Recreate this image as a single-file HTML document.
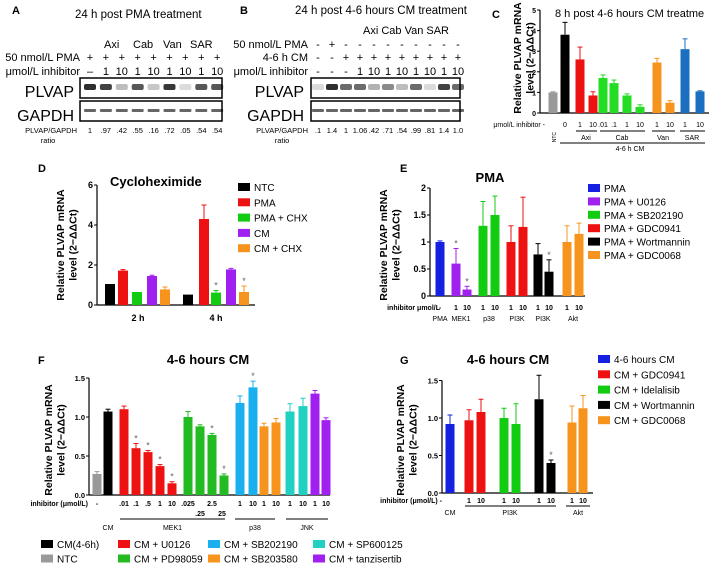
<!DOCTYPE html>
<html><head><meta charset="utf-8"><style>
body{margin:0;background:#fff;}
svg{font-family:"Liberation Sans",sans-serif;display:block}
.b{font-weight:bold}
</style></head><body>
<svg id="s" width="709" height="567" viewBox="0 0 709 567">
<g font-size="11">
<text x="12" y="14" class="b" font-size="11">A</text>
<text x="75" y="18" font-size="11.5">24 h post PMA treatment</text>
<text x="104" y="48">Axi</text><text x="133" y="48">Cab</text><text x="163" y="48">Van</text><text x="190" y="48">SAR</text>
<text x="80" y="61" text-anchor="end">50 nmol/L PMA</text>
<text x="80" y="75" text-anchor="end">μmol/L inhibitor</text>
<text x="74" y="97" text-anchor="end" font-size="16">PLVAP</text>
<text x="74" y="121" text-anchor="end" font-size="16">GAPDH</text>
<text x="77" y="133" text-anchor="end" font-size="7.5">PLVAP/GAPDH</text>
<text x="48" y="143" text-anchor="middle" font-size="7.5">ratio</text>
<rect x="80" y="78" width="142" height="20" fill="none" stroke="#000" stroke-width="1.5"/>
<rect x="80" y="101" width="142" height="20" fill="none" stroke="#000" stroke-width="1.5"/>
<g id="blotA"></g>
</g>
<g font-size="11">
<text x="240" y="14" class="b" font-size="11">B</text>
<text x="295" y="14" font-size="11.5">24 h post 4-6 hours CM treatment</text>
<text x="363" y="34">Axi Cab Van  SAR</text>
<text x="308" y="48" text-anchor="end">50 nmol/L PMA</text>
<text x="308" y="61" text-anchor="end">4-6 h CM</text>
<text x="308" y="75" text-anchor="end">μmol/L inhibitor</text>
<text x="304" y="97" text-anchor="end" font-size="16">PLVAP</text>
<text x="304" y="121" text-anchor="end" font-size="16">GAPDH</text>
<text x="308" y="133" text-anchor="end" font-size="7.5">PLVAP/GAPDH</text>
<text x="282" y="143" text-anchor="middle" font-size="7.5">ratio</text>
<rect x="311" y="78" width="149" height="20" fill="none" stroke="#000" stroke-width="1.5"/>
<rect x="311" y="101" width="149" height="20" fill="none" stroke="#000" stroke-width="1.5"/>
<g id="blotB"></g>
</g>
<g id="charts"></g>
</svg>
<script>
const aPMA=['+','+','+','+','+','+','+','+','+'];
const aInh=['–','1','10','1','10','1','10','1','10'];
const aRatio=['1','.97','.42','.55','.16','.72','.05','.54','.54'];
const aBand=[0.9,0.8,0.2,0.7,0.15,0.85,0.05,0.7,0.7];
const bPMA=['-','+','-','-','-','-','-','-','-','-','-'];
const bCM=['-','-','+','+','+','+','+','+','+','+','+'];
const bInh=['-','-','-','1','10','1','10','1','10','1','10'];
const bRatio=['.1','1.4','1','1.06','.42','.71','.54','.99','.81','1.4','1.0'];
const bBand=[0.05,0.9,0.6,0.6,0.25,0.45,0.2,0.6,0.05,0.8,0.6];
const cCats=['NTC','0','1','10','.01','.1','1','10','1','10','1','10'];
const cVals=[1.0,3.8,2.6,0.85,1.7,1.45,0.85,0.3,2.45,0.5,3.1,1.05];
const cErr=[0.03,0.6,0.6,0.18,0.15,0.15,0.08,0.1,0.2,0.1,0.5,0.03];
const cCol=['#999','#000','#e11','#e11','#2d2','#2d2','#2d2','#2d2','#f7941d','#f7941d','#1a6fc0','#1a6fc0'];
const cTicks=[0,1,2,3,4,5];
const dVals2h=[1.05,1.72,0.65,1.45,0.78];
const dVals4h=[0.52,4.3,0.62,1.78,0.65];
const dErr2h=[0,0.05,0,0.04,0.12];
const dErr4h=[0,0.7,0.1,0.05,0.3];
const dCol=['#000','#e11','#1c1','#a020f0','#f7941d'];
const dLegend=['NTC','PMA','PMA + CHX','CM','CM + CHX'];
const dTicks=[0,2,4,6];
const eVals=[1.0,0.6,0.12,1.3,1.5,1.0,1.28,0.77,0.45,1.0,1.15];
const eErr=[0.02,0.28,0.06,0.45,0.35,0.3,0.55,0.2,0.22,0.3,0.2];
const eCol=['#1520e0','#a020f0','#a020f0','#1c1','#1c1','#e11','#e11','#000','#000','#f7941d','#f7941d'];
const eStar=[0,1,1,0,0,0,0,0,1,0,0];
const eLegend=['PMA','PMA + U0126','PMA + SB202190','PMA + GDC0941','PMA + Wortmannin','PMA + GDC0068'];
const eLegCol=['#1520e0','#a020f0','#1c1','#e11','#000','#f7941d'];
const eTicks=[0,0.5,1,1.5,2];
const fVals=[0.27,1.07,1.1,0.6,0.55,0.37,0.15,1.0,0.88,0.77,0.25,1.18,1.38,0.88,0.93,1.07,1.14,1.3,0.96];
const fErr=[0.03,0.03,0.04,0.06,0.02,0.02,0.02,0.07,0.02,0.02,0.02,0.09,0.08,0.04,0.05,0.1,0.1,0.04,0.03];
const fCol=['#999','#000','#e11','#e11','#e11','#e11','#e11','#2b2','#2b2','#2b2','#2b2','#1ab0f0','#1ab0f0','#f7941d','#f7941d','#20d0c0','#20d0c0','#a020f0','#a020f0'];
const fStar=[0,0,0,1,1,1,1,0,0,1,1,0,1,0,0,0,0,0,0];
const fTicks=[0,0.5,1.0,1.5];
const gVals=[0.92,0.97,1.08,1.0,0.92,1.25,0.4,0.94,1.13];
const gErr=[0.12,0.14,0.17,0.13,0.27,0.32,0.04,0.22,0.17];
const gCol=['#1520e0','#e11','#e11','#1c1','#1c1','#000','#000','#f7941d','#f7941d'];
const gLegend=['4-6 hours CM','CM + GDC0941','CM + Idelalisib','CM + Wortmannin','CM + GDC0068'];
const gLegCol=['#1520e0','#e11','#1c1','#000','#f7941d'];
const gTicks=[0,0.5,1.0,1.5];

const NS='http://www.w3.org/2000/svg';
function el(tag,attrs,parent,txt){const e=document.createElementNS(NS,tag);for(const k in attrs)e.setAttribute(k,attrs[k]);if(txt!==undefined)e.textContent=txt;parent.appendChild(e);return e;}
const root=document.getElementById('charts');

function blot(g,x0,step,band,rows,ratio){
  band.forEach((v,i)=>{const x=x0+i*step;
    const b=el('rect',{x:x-6,y:84,width:12,height:6,rx:2,fill:'#000','fill-opacity':0.1+0.8*v},g);
    
    const c=el('rect',{x:x-6,y:109,width:12,height:3,rx:1,fill:'#000','fill-opacity':0.6},g);
    
    el('text',{x:x,y:133,'text-anchor':'middle','font-size':7.5},g,ratio[i]);
  });
  rows.forEach(r=>r.vals.forEach((t,i)=>{el('text',{x:x0+i*step,y:r.y,'text-anchor':'middle','font-size':11},g,t);}));
}
blot(document.getElementById('blotA'),90,15.9,aBand,[{y:61,vals:aPMA},{y:75,vals:aInh}],aRatio);
blot(document.getElementById('blotB'),318,14,bBand,[{y:48,vals:bPMA},{y:61,vals:bCM},{y:75,vals:bInh}],bRatio);

function axis(g,ax,base,top,unit,ticks,fmt,xEnd,fs){
  el('line',{x1:ax,y1:base,x2:ax,y2:base-ticks[ticks.length-1]*unit,stroke:'#000','stroke-width':1.2},g);
  el('line',{x1:ax,y1:base,x2:xEnd,y2:base,stroke:'#000','stroke-width':1.2},g);
  ticks.forEach(t=>{const y=base-t*unit;el('line',{x1:ax-3,y1:y,x2:ax,y2:y,stroke:'#000'},g);
    el('text',{x:ax-4,y:y+3,'text-anchor':'end','font-size':fs||8,'font-weight':'bold'},g,fmt(t));});
}
function ylab(g,x,y,fs){
  const t=el('text',{transform:`translate(${x},${y}) rotate(-90)`,'text-anchor':'middle','font-size':fs||10,'font-weight':'bold'},g);
  el('tspan',{x:0,dy:0},t,'Relative PLVAP mRNA');el('tspan',{x:0,dy:(fs||10)+2},t,'level (2−ΔΔCt)');
  
}
function bar(g,cx,w,base,unit,v,e,col,star,name){
  const r=el('rect',{x:cx-w/2,y:base-v*unit,width:w,height:v*unit,fill:col},g);
  
  if(e>0){const yt=base-(v+e)*unit;el('line',{x1:cx,y1:base-v*unit,x2:cx,y2:yt,stroke:col,'stroke-width':1},g);
    el('line',{x1:cx-2.5,y1:yt,x2:cx+2.5,y2:yt,stroke:col,'stroke-width':1},g);}
  if(star){el('text',{x:cx,y:base-(v+e)*unit-2,'text-anchor':'middle','font-size':9,fill:'#666'},g,'*');}
}
function legend(g,x,y,step,labels,cols,fs){
  labels.forEach((l,i)=>{const r=el('rect',{x:x,y:y+i*step-7,width:12,height:8,fill:cols[i]},g);
    
    el('text',{x:x+16,y:y+i*step+1,'font-size':fs||10},g,l);});
}

{const g=el('g',{},root);
 const base=113,unit=20.6,ax=540;
 el('text',{x:492,y:18,'font-size':11,'font-weight':'bold'},g,'C');
 el('text',{x:555,y:17,'font-size':11},g,'8 h post 4-6 hours CM treatme');
 axis(g,ax,base,0,unit,cTicks,t=>t,709,7);
 ylab(g,521,58,10.5);
 const xs=[553,565,580,593,603,614,627,640,657,670,685,700];
 cVals.forEach((v,i)=>bar(g,xs[i],9,base,unit,v,cErr[i],cCol[i],0,'bar-c-'+i));
 el('text',{x:545,y:127,'text-anchor':'end','font-size':7},g,'μmol/L inhibitor -');
 ['0','1','10','.01','.1','1','10','1','10','1','10'].forEach((t,i)=>el('text',{x:xs[i+1],y:127,'text-anchor':'middle','font-size':7},g,t));
 el('text',{transform:'translate(556,132) rotate(-90)','text-anchor':'end','font-size':5},g,'NTC');
 [[576,597,'Axi',586],[600,645,'Cab',622],[652,675,'Van',663],[680,705,'SAR',692]].forEach(a=>{el('line',{x1:a[0],y1:131,x2:a[1],y2:131,stroke:'#000'},g);el('text',{x:a[3],y:140,'text-anchor':'middle','font-size':7},g,a[2]);});
 el('line',{x1:560,y1:143,x2:705,y2:143,stroke:'#000'},g);
 el('text',{x:630,y:151,'text-anchor':'middle','font-size':7},g,'4-6 h CM');}

{const g=el('g',{},root);
 const base=305,unit=20,ax=97;
 el('text',{x:38,y:172,'font-size':11,'font-weight':'bold'},g,'D');
 el('text',{x:110,y:186,'font-size':13,'font-weight':'bold'},g,'Cycloheximide');
 axis(g,ax,base,0,unit,dTicks,t=>t,255,9);
 ylab(g,64,245,10.5);
 const x2=[110,123,137,152,165],x4=[188,204,216,231,244];
 dVals2h.forEach((v,i)=>bar(g,x2[i],10,base,unit,v,dErr2h[i],dCol[i],0,'bar-d-2h-'+i));
 dVals4h.forEach((v,i)=>bar(g,x4[i],10,base,unit,v,dErr4h[i],dCol[i],i==2||i==4,'bar-d-4h-'+i));
 el('text',{x:138,y:321,'text-anchor':'middle','font-size':9,'font-weight':'bold'},g,'2 h');
 el('text',{x:216,y:321,'text-anchor':'middle','font-size':9,'font-weight':'bold'},g,'4 h');
 legend(g,238,190,15.3,dLegend,dCol,10);}

{const g=el('g',{},root);
 const base=296,unit=54,ax=430;
 el('text',{x:400,y:172,'font-size':11,'font-weight':'bold'},g,'E');
 el('text',{x:490,y:182,'text-anchor':'middle','font-size':13,'font-weight':'bold'},g,'PMA');
 axis(g,ax,base,0,unit,eTicks,t=>t,585,9);
 ylab(g,387,245,10.5);
 const xs=[440,456,467,483,495,511,523,538,549,567,579];
 eVals.forEach((v,i)=>bar(g,xs[i],9,base,unit,v,eErr[i],eCol[i],eStar[i],'bar-e-'+i));
 el('text',{x:440,y:310,'text-anchor':'end','font-size':7,'font-weight':'bold'},g,'inhibitor μmol/L');
 ['-','1','10','1','10','1','10','1','10','1','10'].forEach((t,i)=>el('text',{x:xs[i],y:310,'text-anchor':'middle','font-size':7,'font-weight':'bold'},g,t));
 [['PMA',440],['MEK1',461],['p38',489],['PI3K',517],['PI3K',543],['Akt',573]].forEach(a=>el('text',{x:a[1],y:321,'text-anchor':'middle','font-size':7},g,a[0]));
 legend(g,588,191,13.4,eLegend,eLegCol,10);}

{const g=el('g',{},root);
 const base=495,unit=78,ax=89;
 el('text',{x:38,y:364,'font-size':11,'font-weight':'bold'},g,'F');
 el('text',{x:208,y:364,'text-anchor':'middle','font-size':13,'font-weight':'bold'},g,'4-6 hours CM');
 axis(g,ax,base,0,unit,fTicks,t=>t.toFixed(1),330,7.5);
 ylab(g,52,440,10.5);
 const xs=[97,108,124,136,148,160,172,188,200,212,224,240,253,264,276,290,303,315,326];
 fVals.forEach((v,i)=>bar(g,xs[i],9,base,unit,v,fErr[i],fCol[i],fStar[i],'bar-f-'+i));
 el('text',{x:88,y:506,'text-anchor':'end','font-size':7,'font-weight':'bold'},g,'inhibitor (μmol/L)');
 const lb=['-','','.01','.1','.5','1','10','.025','','2.5','','1','10','1','10','1','10','1','10'];
 lb.forEach((t,i)=>el('text',{x:xs[i],y:506,'text-anchor':'middle','font-size':7,'font-weight':'bold'},g,t));
 el('text',{x:200,y:516,'text-anchor':'middle','font-size':7,'font-weight':'bold'},g,'.25');
 el('text',{x:222,y:516,'text-anchor':'middle','font-size':7,'font-weight':'bold'},g,'25');
 [[120,225,'MEK1'],[235,275,'p38'],[286,328,'JNK']].forEach(a=>{el('line',{x1:a[0],y1:519,x2:a[1],y2:519,stroke:'#000'},g);el('text',{x:(a[0]+a[1])/2,y:530,'text-anchor':'middle','font-size':7},g,a[2]);});
 el('text',{x:108,y:530,'text-anchor':'middle','font-size':7},g,'CM');
 const lx=[41,118,208,313],ll=[['CM(4-6h)','NTC'],['CM + U0126','CM + PD98059'],['CM + SB202190','CM + SB203580'],['CM + SP600125','CM + tanzisertib']],lc=[['#000','#999'],['#e11','#2b2'],['#1ab0f0','#f7941d'],['#20d0c0','#a020f0']];
 lx.forEach((x,i)=>legend(g,x,547,14.5,ll[i],lc[i],10));}

{const g=el('g',{},root);
 const base=493,unit=75,ax=442;
 el('text',{x:400,y:364,'font-size':11,'font-weight':'bold'},g,'G');
 el('text',{x:508,y:364,'text-anchor':'middle','font-size':13,'font-weight':'bold'},g,'4-6 hours CM');
 axis(g,ax,base,0,unit,gTicks,t=>t.toFixed(1),593,7.5);
 ylab(g,404,440,10.5);
 const xs=[450,469,481,504,516,539,551,572,583];
 gVals.forEach((v,i)=>bar(g,xs[i],9,base,unit,v,gErr[i],gCol[i],i==6,'bar-g-'+i));
 el('text',{x:442,y:503,'text-anchor':'end','font-size':7,'font-weight':'bold'},g,'inhibitor (μmol/L)  -');
 ['1','10','1','10','1','10','1','10'].forEach((t,i)=>el('text',{x:xs[i+1],y:503,'text-anchor':'middle','font-size':7,'font-weight':'bold'},g,t));
 el('line',{x1:465,y1:506,x2:556,y2:506,stroke:'#000'},g);el('line',{x1:566,y1:506,x2:590,y2:506,stroke:'#000'},g);
 el('text',{x:450,y:515,'text-anchor':'middle','font-size':7},g,'CM');
 el('text',{x:510,y:515,'text-anchor':'middle','font-size':7},g,'PI3K');
 el('text',{x:578,y:515,'text-anchor':'middle','font-size':7},g,'Akt');
 legend(g,598,362,15.3,gLegend,gLegCol,10);}
</script>
</body></html>
